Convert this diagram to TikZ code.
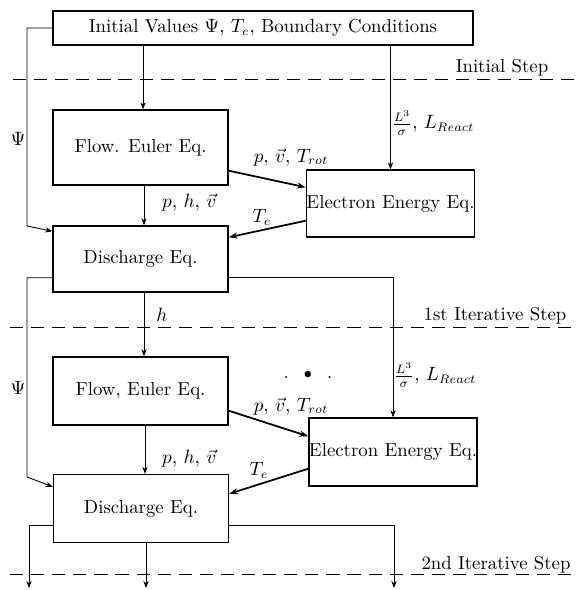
\documentclass[tikz,border=0pt]{standalone}
\usepackage{amsmath}
\usetikzlibrary{positioning,arrows.meta}

\begin{document}
\begin{tikzpicture}[
    x=0.2mm, y=-0.2mm,
    every node/.style={font=\fontsize{10.7}{13}\selectfont},
    eqbox/.style={draw, line width=0.8pt, minimum width=35mm, minimum height=13.6mm, inner sep=0pt},
    elbox/.style={draw, line width=0.8pt, minimum width=33.2mm, minimum height=13.6mm, inner sep=0pt},
    link/.style={line width=0.5pt, -{Stealth[length=4pt,width=3pt]}},
    feed/.style={line width=1pt, -{Stealth[length=5pt,width=3.5pt]}},
    stepline/.style={line width=0.5pt, dash pattern=on 7.5pt off 4.5pt},
]
\useasboundingbox (0,0) rectangle (576,590);

% boxes
\node[draw, line width=0.8pt, minimum width=84mm, minimum height=6.8mm] (top) at (263,28)
    {Initial Values $\Psi$, $T_e$, Boundary Conditions};
\node[eqbox, minimum height=15mm] (flow1) at (140.5,147.5) {Flow. Euler Eq.};
\node[elbox, minimum height=13.4mm] (elec1) at (390.5,203.5) {Electron Energy Eq.};
\node[eqbox, minimum height=13.2mm] (dis1) at (140.5,259) {Discharge Eq.};
\node[eqbox] (flow2) at (140.5,391) {Flow, Euler Eq.};
\node[elbox] (elec2) at (393,452) {Electron Energy Eq.};
\node[eqbox] (dis2) at (141,508.5) {Discharge Eq.};

% step separators
\draw[stepline] (13,79) -- (576,79);
\draw[stepline] (10,327) -- (576,327);
\draw[stepline] (10,574) -- (576,574);
\node (init) at (502,68) {Initial Step};
\node (iter1) at (495,316) {1st Iterative Step};
\node (iter2) at (496,565) {2nd Iterative Step};

% corner points
\coordinate (psiA) at (27,226);
\coordinate (psiB) at (27,477);
\coordinate (endL) at (29,588);
\coordinate (endM) at (146,588);
\coordinate (endR) at (394,588);

% initial step
\draw[link] (top.south -| 143,0) -- (flow1.north -| 143,0);
\draw[link] (top.south -| elec1.north) -- (elec1.north);
\draw[link] (top.west) -| (psiA) -- ([yshift=-1.2mm]dis1.north west);
\draw[feed] ([yshift=3mm]flow1.south east) -- ([yshift=-3.6mm]elec1.north west);
\draw[feed] ([yshift=3.4mm]elec1.south west) -- ([yshift=-2.4mm]dis1.north east);
\draw[link] (flow1.south -| 144,0) -- (dis1.north -| 144,0);
\node (psi1) at (18,139) {$\Psi$};
\node (lr1) at (433,123) {$\frac{L^3}{\sigma}$, $L_{React}$};
\node (pvt1) at (291,157) {$p,\,\vec{v},\,T_{rot}$};
\node (te1) at (262,217) {$T_e$};
\node[anchor=west] (phv1) at (156,202) {$p,\,h,\,\vec{v}$};

% 1st iterative step
\draw[link] (dis1.south -| 144,0) -- (flow2.north -| 144,0);
\draw[link] ([yshift=3mm]dis1.south east) -| (elec2.north);
\draw[link] ([yshift=3mm]dis1.south west) -| (psiB) -- ([yshift=-2.6mm]dis2.north west);
\draw[feed] ([yshift=3mm]flow2.south east) -- ([yshift=-3.8mm]elec2.north west);
\draw[feed] ([yshift=3.6mm]elec2.south west) -- ([yshift=-4mm]dis2.north east);
\draw[link] (flow2.south -| 145,0) -- (dis2.north -| 145,0);
\node (psi2) at (18,388) {$\Psi$};
\node (h1) at (162,315) {$h$};
\node (lr2) at (435,375) {$\frac{L^3}{\sigma}$, $L_{React}$};
\node (dots) at (308,375) {.\hspace{3mm}{\small$\bullet$}\hspace{3mm}.};
\node (pvt2) at (291,406) {$p,\,\vec{v},\,T_{rot}$};
\node (te2) at (259,470) {$T_e$};
\node[anchor=west] (phv2) at (156,458) {$p,\,h,\,\vec{v}$};

% 2nd iterative step
\draw[link] ([yshift=3.6mm]dis2.south west) -| (endL);
\draw[link] (dis2.south -| endM) -- (endM);
\draw[link] ([yshift=3.6mm]dis2.south east) -| (endR);
\end{tikzpicture}
\end{document}
